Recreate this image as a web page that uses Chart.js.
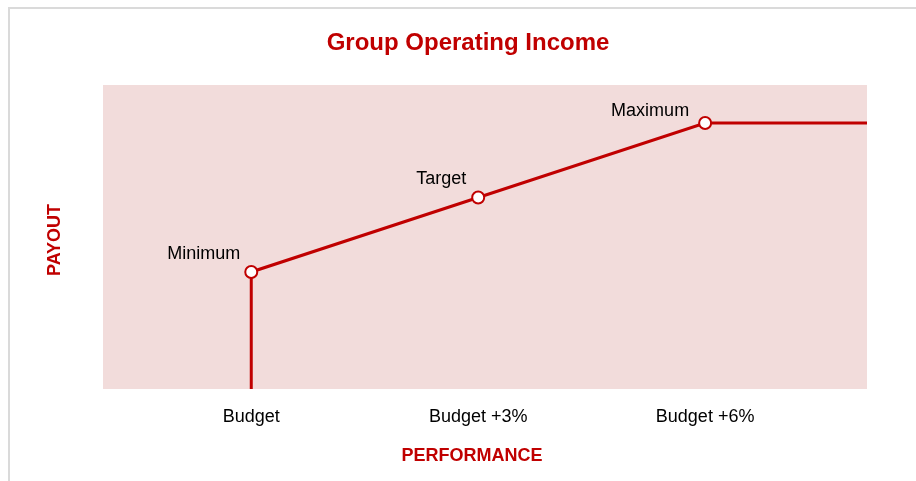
<!DOCTYPE html>
<html>
<head>
<meta charset="utf-8">
<script src="https://cdn.jsdelivr.net/npm/chart.js@4.4.1/dist/chart.umd.min.js"></script>
<style>
  html, body { margin: 0; padding: 0; background: #fff; }
  #wrap { position: relative; width: 916px; height: 481px; overflow: hidden; }
  #frame { position: absolute; left: 8px; top: 7px; right: -10px; bottom: -10px;
           border-left: 2px solid #dadada; border-top: 2px solid #dadada; }
  #chart { position: absolute; left: 0; top: 0; }
</style>
</head>
<body>
<div id="wrap">
  <div id="frame"></div>
  <canvas id="chart" width="916" height="481"></canvas>
</div>
<script>
// categories on the performance axis (in % above budget)
const categories = ['Budget', 'Budget +3%', 'Budget +6%'];
const performance = [0, 3, 6];

// payout levels
const levels = ['Minimum', 'Target', 'Maximum'];
const payout = [38.5, 63, 87.5];

const xMin = -1.96, xMax = 8.14;
const RED = '#c00000';
const FONT = '"Liberation Sans", Arial, sans-serif';
// where each level label sits relative to its point (right edge, middle)
const labelNudge = [[-11, -18], [-12, -18], [-16, -12]];

// line: rises from zero at budget, through the three levels, then flat
const lineData = [{ x: performance[0], y: 0 }];
performance.forEach((p, i) => lineData.push({ x: p, y: payout[i] }));
lineData.push({ x: xMax, y: payout[payout.length - 1] });

const radii = lineData.map((d, i) => (i >= 1 && i <= levels.length) ? 6 : 0);

const backgroundPlugin = {
    id: 'plotBg',
    beforeDraw(chart) {
        const { ctx, chartArea: a } = chart;
        ctx.save();
        ctx.fillStyle = '#f2dcdb';
        ctx.fillRect(a.left, a.top, a.right - a.left, a.bottom - a.top);
        ctx.restore();
    }
};

// titles and point labels
const textPlugin = {
    id: 'texts',
    afterDraw(chart) {
        const { ctx } = chart;
        ctx.save();
        ctx.fillStyle = RED;
        ctx.textAlign = 'center';
        ctx.textBaseline = 'middle';
        ctx.font = 'bold 24px ' + FONT;
        ctx.fillText('Group Operating Income', 468, 43);
        ctx.font = 'bold 18px ' + FONT;
        ctx.fillText('PERFORMANCE', 472, 456);
        ctx.translate(55, 240);
        ctx.rotate(-Math.PI / 2);
        ctx.fillText('PAYOUT', 0, 0);
        ctx.restore();

        const meta = chart.getDatasetMeta(0);
        ctx.save();
        ctx.fillStyle = '#000';
        ctx.font = '18px ' + FONT;
        ctx.textAlign = 'right';
        ctx.textBaseline = 'middle';
        levels.forEach((name, i) => {
            const pt = meta.data[i + 1];
            ctx.fillText(name, pt.x + labelNudge[i][0], pt.y + labelNudge[i][1]);
        });
        ctx.restore();
    }
};

new Chart(document.getElementById('chart'), {
    type: 'line',
    data: {
        datasets: [{
            data: lineData,
            borderColor: RED,
            borderWidth: 3,
            pointRadius: radii,
            pointHoverRadius: radii,
            pointBackgroundColor: '#fff',
            pointBorderColor: RED,
            pointBorderWidth: 2,
            tension: 0,
            clip: 3
        }]
    },
    options: {
        responsive: false,
        animation: false,
        layout: { padding: { left: 103, right: 49, top: 85, bottom: 0 } },
        plugins: { legend: { display: false }, tooltip: { enabled: false } },
        scales: {
            x: {
                type: 'linear',
                min: xMin,
                max: xMax,
                grid: { display: false, drawTicks: false },
                border: { display: false },
                afterBuildTicks(axis) {
                    axis.ticks = performance.map(v => ({ value: v }));
                },
                afterFit(axis) { axis.height = 92; },
                ticks: {
                    padding: 17,
                    color: '#000',
                    font: { family: FONT, size: 18 },
                    callback: (v) => categories[performance.indexOf(v)]
                }
            },
            y: {
                display: false,
                min: 0,
                max: 100
            }
        }
    },
    plugins: [backgroundPlugin, textPlugin]
});
</script>
</body>
</html>
